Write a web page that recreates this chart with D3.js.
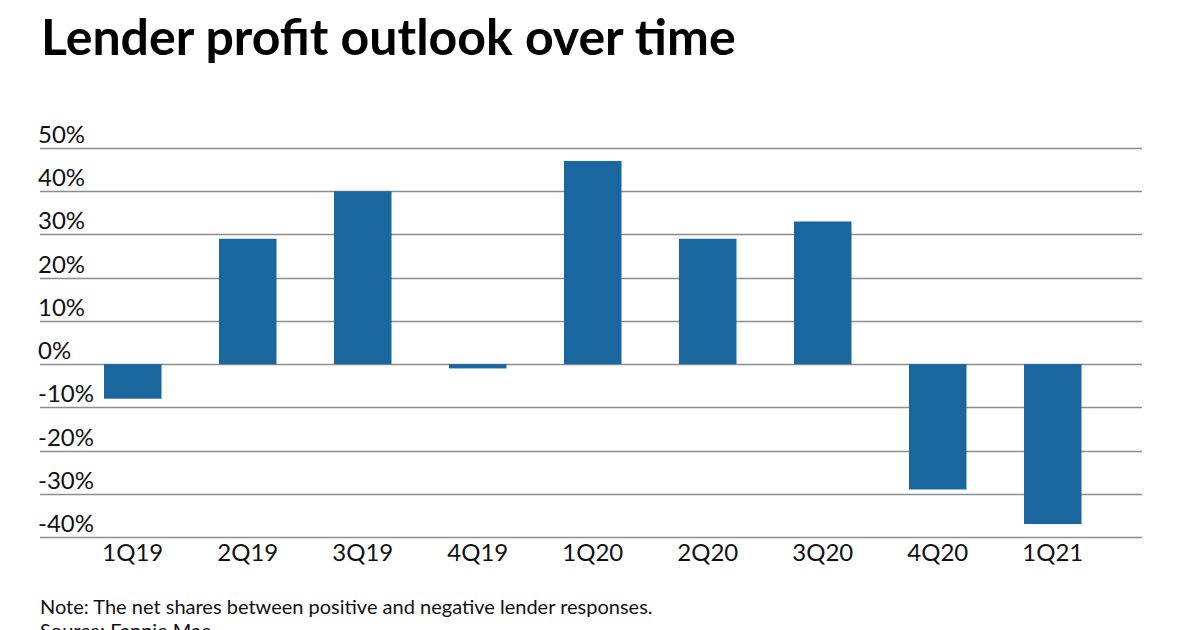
<!DOCTYPE html>
<html><head><meta charset="utf-8">
<script src="https://cdn.jsdelivr.net/npm/d3@7"></script>
<style>body{margin:0;background:#fff;} svg{display:block;font-family:Lato, sans-serif;}</style>
</head><body>
<svg id="c" width="1200" height="630"></svg>
<script>
const categories = ["1Q19","2Q19","3Q19","4Q19","1Q20","2Q20","3Q20","4Q20","1Q21"];
const values = [-8, 29, 40, -1, 47, 29, 33, -29, -37];
const yTicks = [50, 40, 30, 20, 10, 0, -10, -20, -30, -40];
const title = "Lender profit outlook over time";
const note = "Note: The net shares between positive and negative lender responses.";
const source = "Source: Fannie Mae";

const svg = d3.select("#c");
const y = d3.scaleLinear().domain([-40, 50]).range([537, 148]);
const x = d3.scaleBand().domain(categories).range([75.25, 1110.25]).paddingInner(0.5).paddingOuter(0.25);

svg.append("text").attr("x", 41).attr("y", 55).attr("font-size", 50).attr("font-weight", 700).attr("fill", "#000").text(title);

const g = svg.append("g");
g.selectAll("line.grid").data(yTicks).join("line").attr("class","grid")
  .attr("x1", 40).attr("x2", 1142).attr("y1", d => Math.round(y(d)) + 0.5).attr("y2", d => Math.round(y(d)) + 0.5)
  .attr("stroke", "#8c8c8c").attr("stroke-width", 1.3);
g.selectAll("text.yl").data(yTicks).join("text").attr("class","yl")
  .attr("x", 38).attr("y", d => y(d) - 5).attr("font-size", 24).attr("fill", "#111")
  .text(d => d + "%");

g.selectAll("rect").data(values).join("rect")
  .attr("x", (d,i) => x(categories[i])).attr("width", x.bandwidth())
  .attr("y", d => y(Math.max(0, d))).attr("height", d => Math.abs(y(d) - y(0)))
  .attr("fill", "#1a67a0");

g.selectAll("text.xl").data(categories).join("text").attr("class","xl")
  .attr("x", d => x(d) + x.bandwidth()/2).attr("y", 561).attr("text-anchor","middle")
  .attr("font-size", 24).attr("fill", "#111").text(d => d);

svg.append("text").attr("x", 40).attr("y", 614).attr("font-size", 20).attr("fill", "#111").text(note);
svg.append("text").attr("x", 40).attr("y", 638).attr("font-size", 20).attr("fill", "#111").text(source);
</script>
</body></html>
